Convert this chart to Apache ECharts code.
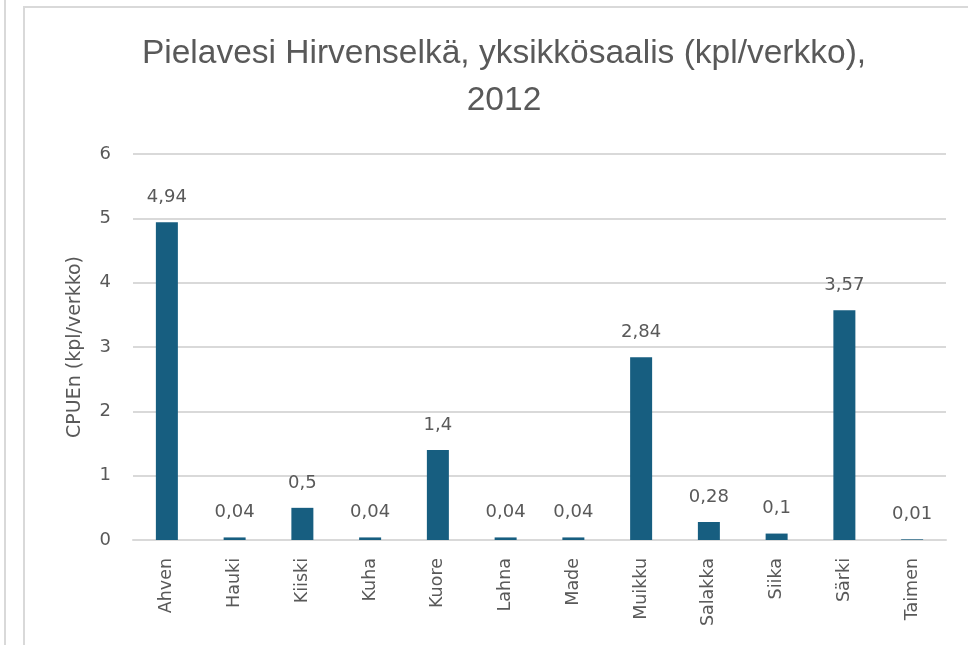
<!DOCTYPE html>
<html lang="fi">
<head>
<meta charset="UTF-8">
<title>Pielavesi Hirvenselkä</title>
<script src="https://cdn.jsdelivr.net/npm/echarts@6/dist/echarts.min.js"></script>
<style>
	html,body{margin:0;padding:0;height:100%;background:#fff;}
	#main{width:968px;height:645px;}
</style>
</head>
<body>
<div id="main"></div>
<script type="text/javascript">
	// lajit ja yksikkösaalis
	var lajit = ['Ahven','Hauki','Kiiski','Kuha','Kuore','Lahna','Made','Muikku','Salakka','Siika','Särki','Taimen'];
	var cpue = [4.94, 0.04, 0.5, 0.04, 1.4, 0.04, 0.04, 2.84, 0.28, 0.1, 3.57, 0.01];
	var yTicks = [0, 1, 2, 3, 4, 5, 6];

	var harmaa = '#595959';
	var otsikkoFontti = '"Liberation Sans", Arial, sans-serif';
	var fontti = '"DejaVu Sans", sans-serif';

	var myChart = echarts.init(document.getElementById('main'));
	var option = {
		animation: false,
		textStyle: {fontFamily: fontti},
		title: {
			text: 'Pielavesi Hirvenselkä, yksikkösaalis (kpl/verkko),\n2012',
			left: 499,
			textAlign: 'center',
			top: 25,
			textStyle: {fontFamily: otsikkoFontti, fontSize: 33.5, fontWeight: 'normal', color: harmaa, lineHeight: 47}
		},
		graphic: [
			{type: 'line', shape: {x1: 5, y1: 0, x2: 5, y2: 645}, style: {stroke: '#d9d9d9', lineWidth: 2}},
			{type: 'rect', shape: {x: 24, y: 7, width: 960, height: 700}, style: {fill: 'none', stroke: '#d9d9d9', lineWidth: 2}}
		],
		grid: {left: 133, right: 22, top: 154, bottom: 105},
		xAxis: {
			type: 'category',
			data: lajit,
			axisLine: {lineStyle: {color: '#d9d9d9', width: 2}},
			axisTick: {show: false},
			axisLabel: {rotate: 90, color: harmaa, fontSize: 17.5, margin: 18}
		},
		yAxis: {
			type: 'value',
			min: yTicks[0],
			max: yTicks[yTicks.length - 1],
			interval: 1,
			name: 'CPUEn (kpl/verkko)',
			nameLocation: 'middle',
			nameGap: 48,
			nameTextStyle: {color: harmaa, fontSize: 19},
			axisLabel: {color: harmaa, fontSize: 18, margin: 22},
			splitLine: {lineStyle: {color: '#d9d9d9', width: 2}}
		},
		series: [{
			type: 'bar',
			data: cpue,
			barWidth: 22,
			itemStyle: {color: '#175e80'},
			label: {
				show: true,
				position: 'top',
				distance: 16,
				color: harmaa,
				fontSize: 18,
				formatter: function (p) { return String(p.value).replace('.', ','); }
			}
		}]
	};
	myChart.setOption(option);
</script>
</body>
</html>
